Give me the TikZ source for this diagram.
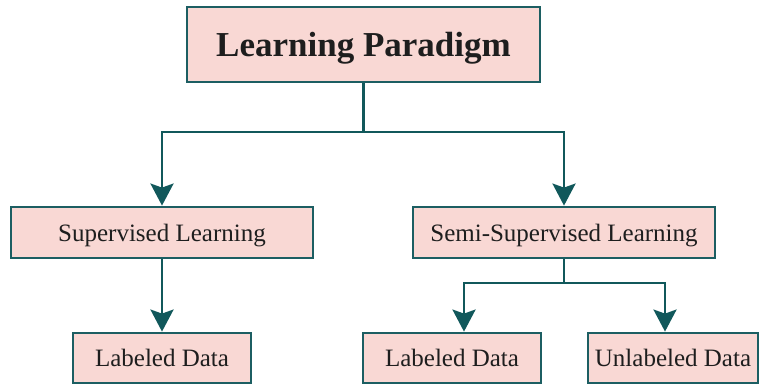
\documentclass[tikz,border=0pt]{standalone}
\usepackage{fontspec}
\setmainfont{Liberation Serif}
\usetikzlibrary{arrows.meta}
\definecolor{boxfill}{HTML}{F9D8D4}
\definecolor{boxline}{HTML}{1C5E62}
\definecolor{linkcol}{HTML}{11585B}
\definecolor{txt}{HTML}{1E1E1E}
\tikzset{
  box/.style={draw=boxline, fill=boxfill, line width=2.8pt, rectangle,
    inner sep=0pt, text=txt, text depth=0pt, font=\fontsize{25}{28}\selectfont},
  link/.style={draw=linkcol, line width=2.8pt},
  arrowlink/.style={link, -{Stealth[length=22pt,width=23pt,inset=4pt]}}
}
\begin{document}
\begin{tikzpicture}[x=1pt,y=-1pt]
\useasboundingbox (0,0) rectangle (760,385);

% boxes
\node[box, minimum width=353pt, minimum height=75pt,
  font=\fontsize{35}{40}\selectfont\bfseries] (top) at (363.5,44.5) {Learning Paradigm};
\node[box, minimum width=302pt, minimum height=51pt] (sup) at (162,232.5) {Supervised Learning};
\node[box, minimum width=302pt, minimum height=51pt] (semi) at (564,232.5) {Semi-Supervised Learning};
\node[box, minimum width=178pt, minimum height=50pt] (ldA) at (162,358) {Labeled Data};
\node[box, minimum width=178pt, minimum height=50pt] (ldB) at (452,358) {Labeled Data};
\node[box, minimum width=170pt, minimum height=50pt] (ud) at (673,358) {Unlabeled Data};

% junction points of the tree
\coordinate (jtop) at (363.5,132);
\coordinate (jsemi) at (564,283);

% connectors
\draw[link] (top.south) -- (jtop);
\draw[arrowlink] (jtop) -| (sup.north);
\draw[arrowlink] (jtop) -| (semi.north);
\draw[arrowlink] (sup.south) -- (ldA.north);
\draw[link] (semi.south) -- (jsemi);
\draw[arrowlink] (jsemi) -| ([xshift=12pt]ldB.north);
\draw[arrowlink] (jsemi) -| ([xshift=-8pt]ud.north);
\end{tikzpicture}
\end{document}
